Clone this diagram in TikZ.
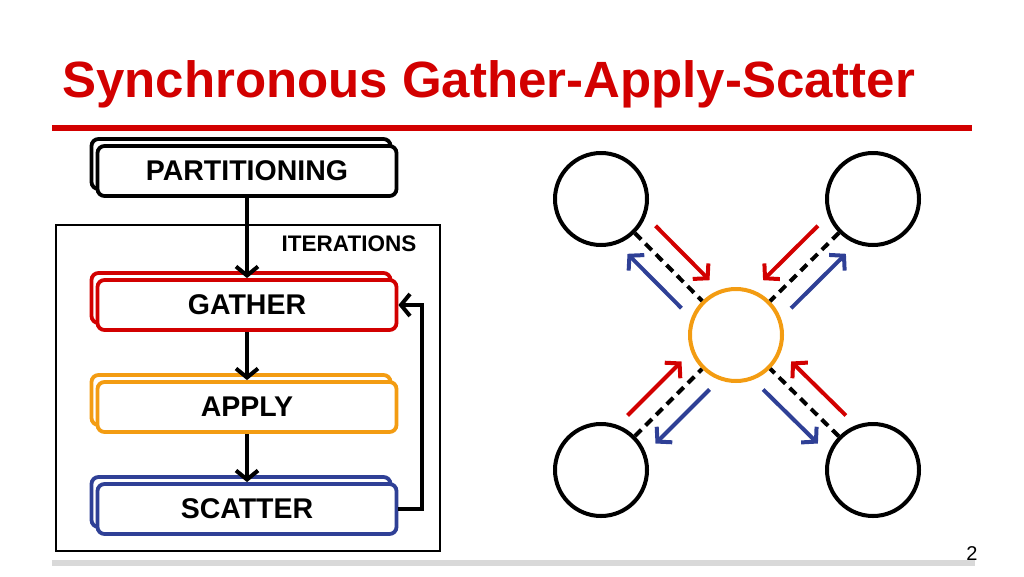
\documentclass[tikz,border=0pt]{standalone}
\usepackage{fontspec}
\setmainfont{Liberation Sans}
\usetikzlibrary{positioning, arrows.meta, calc}
\definecolor{GasRed}{RGB}{210, 0, 0}
\definecolor{GasOrange}{RGB}{243, 156, 18}
\definecolor{GasBlue}{RGB}{47, 64, 150}
\definecolor{RuleGray}{RGB}{217, 217, 217}

\tikzset{
    stagebox/.style={draw=#1, line width=3.8pt, rounded corners=7pt, fill=white,
        minimum width=299pt, minimum height=50pt, font=\fontsize{28.5}{30}\selectfont\bfseries},
    flow/.style={line width=4pt, -{Straight Barb[length=9pt,width=22pt]}},
    vertex/.style={circle, draw=#1, line width=4pt, minimum size=92pt, inner sep=0pt},
    msg/.style={line width=4pt, draw=#1, -{Straight Barb[length=10pt,width=22pt]}}
}

\begin{document}
\begin{tikzpicture}[x=1pt, y=-1pt]
            \useasboundingbox (0,0) rectangle (1024,576);
            % Title and rules
            \node[anchor=base west, inner sep=0pt, text=GasRed, font=\fontsize{51}{55}\selectfont\bfseries] (title) at (62,97) {Synchronous Gather-Apply-Scatter};
            \draw[GasRed, line width=6pt] (52,128) -- (972,128);
            \draw[RuleGray, line width=6pt] (52,563) -- (975,563);
            \node[font=\fontsize{20}{22}\selectfont] (pagenum) at (972,554) {2};

            % Iterations frame
            \draw[line width=2.5pt] (56,225) rectangle (440,551);
            \node[font=\fontsize{22.5}{24}\selectfont\bfseries] (iterlabel) at (349,244) {ITERATIONS};

            % Stages (shadow copy behind each)
            \foreach \nm/\col/\yy/\txt in {part/black/171/PARTITIONING, gather/GasRed/305/GATHER, apply/GasOrange/407/APPLY, scatter/GasBlue/509/SCATTER}{
                \node[stagebox=\col] (\nm back) at (241,\yy-7) {};
                \node[stagebox=\col] (\nm) at (247,\yy) {\txt};
            }
            \draw[flow] (part) -- (gather);
            \draw[flow] (gather) -- (apply);
            \draw[flow] (apply) -- (scatter);
            \draw[flow] (scatter.east) -| (422,305) -- (gather.east);

            % Graph
            \node[vertex=GasOrange] (c) at (736,335) {};
            \node[vertex=black] (tl) at (601,199) {};
            \node[vertex=black] (tr) at (873,199) {};
            \node[vertex=black] (bl) at (601,470) {};
            \node[vertex=black] (br) at (873,470) {};
            \foreach \o/\dx in {tl/1, tr/-1, bl/-1, br/1}{
                \draw[line width=4pt, dash pattern=on 9pt off 6pt] (\o) -- (c);
                \draw[msg=GasRed] ($(\o)!0.30!(c)+(14*\dx,-14)$) -- ($(\o)!0.70!(c)+(14*\dx,-14)$);
                \draw[msg=GasBlue] ($(\o)!0.70!(c)+(-14*\dx,14)$) -- ($(\o)!0.30!(c)+(-14*\dx,14)$);
            }
        \end{tikzpicture}
\end{document}
